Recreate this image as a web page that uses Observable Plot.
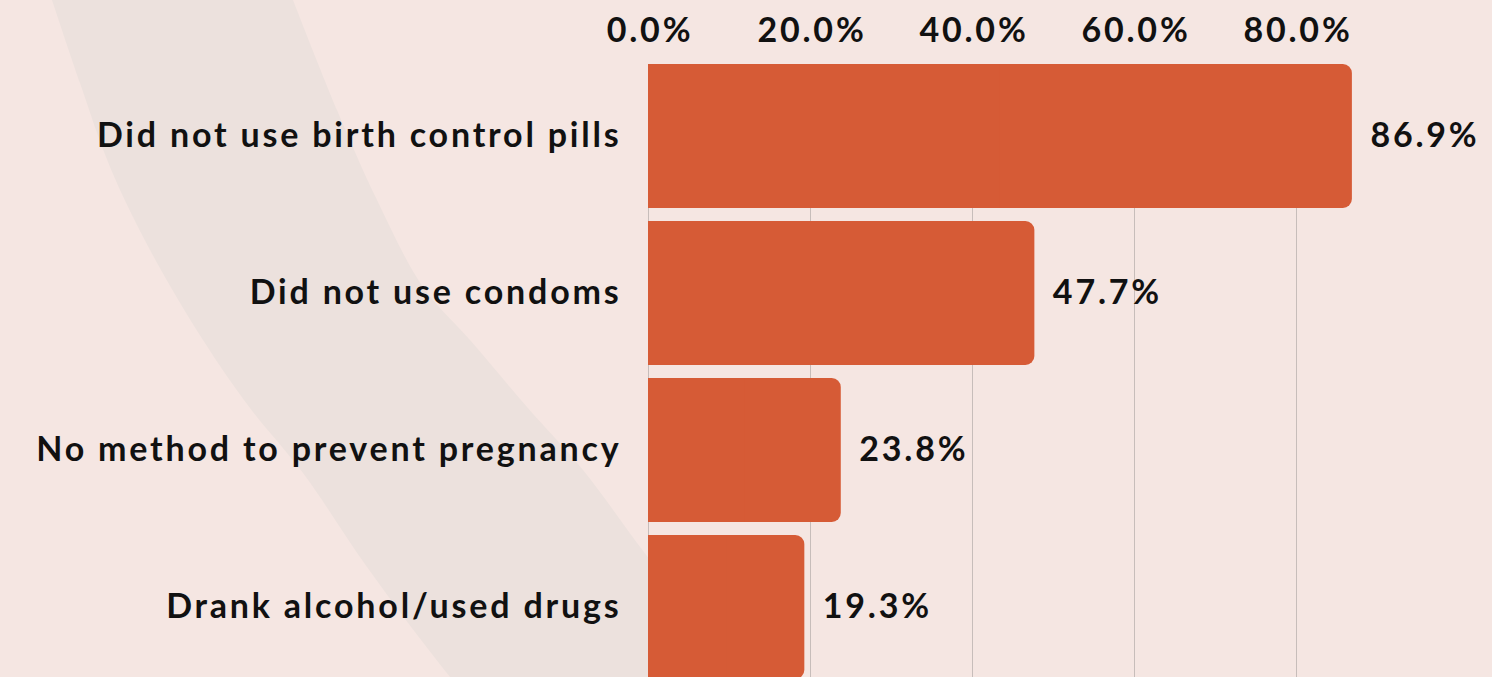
<!DOCTYPE html>
<html>
<head>
<meta charset="utf-8">
<script src="https://cdn.jsdelivr.net/npm/d3@7"></script>
<script src="https://cdn.jsdelivr.net/npm/@observablehq/plot@0.6"></script>
<style>
  html, body { margin: 0; padding: 0; background: #f5e6e2; overflow: hidden; }
  #wrap { position: relative; width: 1492px; height: 677px; overflow: hidden; }
  #deco { position: absolute; left: 0; top: 0; }
  #chart { position: absolute; left: 0; top: 0; }
  #chart text { letter-spacing: 2.8px; }
</style>
</head>
<body>
<div id="wrap">
  <svg id="deco" width="1492" height="677"></svg>
  <div id="chart"></div>
</div>
<script>
// ---- data ----
const categories = [
  "Did not use birth control pills",
  "Did not use condoms",
  "No method to prevent pregnancy",
  "Drank alcohol/used drugs"
];
const values = [86.9, 47.7, 23.8, 19.3];
const tickValues = [0, 20, 40, 60, 80];

const data = categories.map((c, i) => ({category: c, value: values[i]}));

// ---- decorative background band ----
const leftEdge = [[52,0],[80,83],[110,167],[150,250],[203,340],[250,408],[303,473],[367,567],[450,677],[520,760]];
const rightEdge = [[293,0],[337,110],[377,200],[423,287],[470,340],[527,407],[583,470],[650,560],[745,677],[820,760]];
const curve = d3.line().curve(d3.curveCatmullRom);
const pathD = curve(leftEdge) + "L" + curve(rightEdge.slice().reverse()).slice(1) + "Z";
d3.select("#deco").append("path").attr("d", pathD).attr("fill", "#ece1dd");

// ---- chart ----
const font = "Lato, 'Noto Sans', sans-serif";
const fs = 34;
const barColor = "#d65b36";
const fmt = d => d.toFixed(1) + "%";

const chart = Plot.plot({
  width: 1492,
  height: 700,
  marginTop: 64,
  marginBottom: 0,
  marginLeft: 648,
  marginRight: 0,
  style: {background: "transparent", fontFamily: font, overflow: "visible"},
  x: {domain: [0, 100], range: [648, 1458]},
  y: {domain: categories, range: [58, 686], paddingInner: 0.08, paddingOuter: 0.04},
  marks: [
    Plot.gridX(tickValues, {stroke: "#c7bdba", strokeOpacity: 1, strokeWidth: 1}),
    Plot.barX(data, {y: "category", x: "value", fill: barColor, rx: 9}),
    Plot.barX(data, {y: "category", x1: 0, x2: d => d.value / 2, fill: barColor}),
    Plot.text(data, {
      y: "category", x: "value", text: d => fmt(d.value),
      dx: 18, textAnchor: "start", fontSize: fs, fontWeight: 700, fill: "#111", fontFamily: font
    }),
    Plot.axisX(tickValues, {
      anchor: "top", tickSize: 0, tickPadding: 23, tickFormat: fmt, dx: 1.5,
      fontSize: fs, fontWeight: 700, fill: "#111", label: null, fontFamily: font
    }),
    Plot.axisY({
      anchor: "left", tickSize: 0, tickPadding: 27,
      fontSize: fs, fontWeight: 700, fill: "#111", label: null, fontFamily: font
    })
  ]
});
document.getElementById("chart").appendChild(chart);
</script>
</body>
</html>
